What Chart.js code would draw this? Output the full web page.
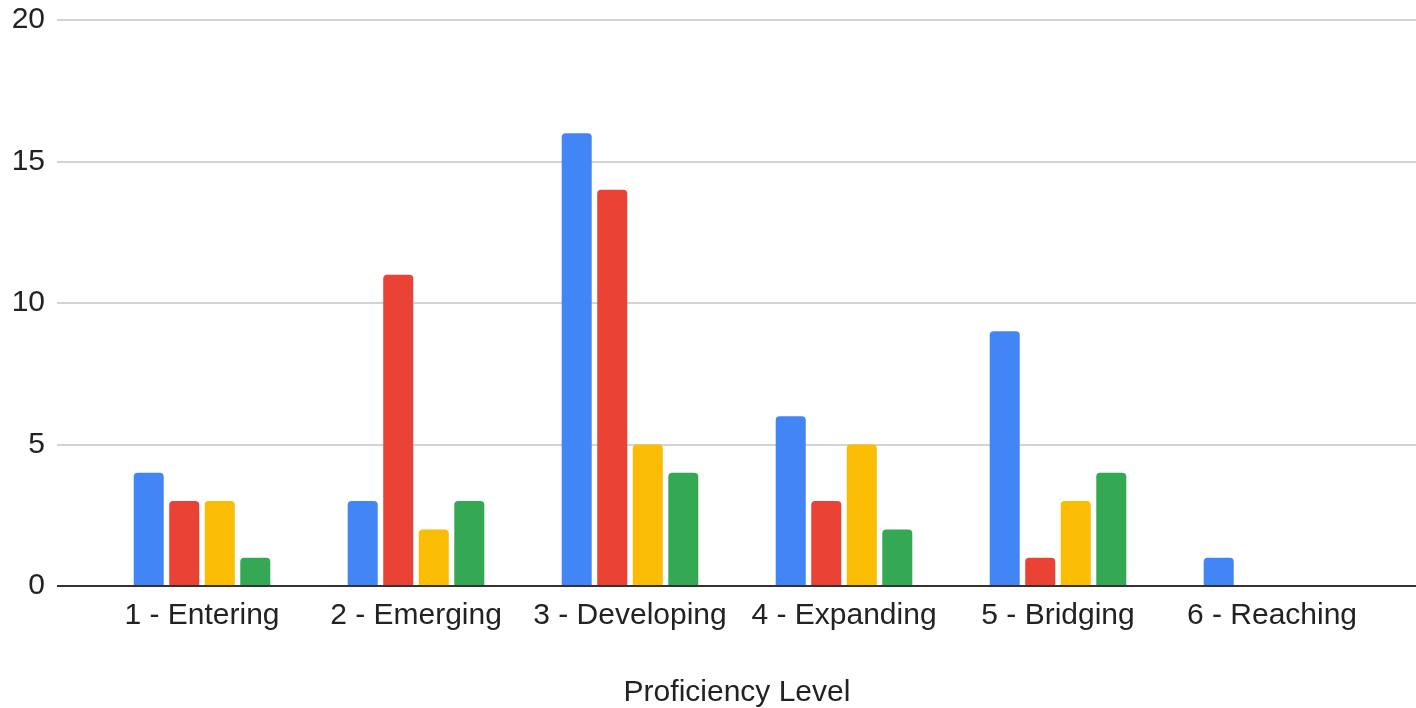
<!DOCTYPE html>
<html>
<head>
<meta charset="utf-8">
<script src="https://cdn.jsdelivr.net/npm/chart.js@4"></script>
<style>
  html, body { margin: 0; padding: 0; background: #fff; }
  #wrap { width: 1416px; height: 708px; position: relative; }
</style>
</head>
<body>
<div id="wrap"><canvas id="levelChart"></canvas></div>
<script>
// data
const levels = ['1 - Entering', '2 - Emerging', '3 - Developing', '4 - Expanding', '5 - Bridging', '6 - Reaching'];
const seriesA = [4, 3, 16, 6, 9, 1];
const seriesB = [3, 11, 14, 3, 1, 0];
const seriesC = [3, 2, 5, 5, 3, 0];
const seriesD = [1, 3, 4, 2, 4, 0];
const yTicks = [0, 5, 10, 15, 20];

const FONT = "'Liberation Sans', Arial, sans-serif";
const GRID_LEFT = 57; // gridlines start just after the y labels

// horizontal gridlines that run wider than the category band (like Google Sheets)
const wideGrid = {
    id: 'wideGrid',
    beforeDatasetsDraw(chart) {
        const { ctx, scales: { y } } = chart;
        ctx.save();
        ctx.lineWidth = 2;
        ctx.strokeStyle = '#d3d3d3';
        yTicks.forEach(v => {
            if (v === 0) return;
            const py = Math.round(y.getPixelForValue(v));
            ctx.beginPath();
            ctx.moveTo(GRID_LEFT, py);
            ctx.lineTo(chart.width, py);
            ctx.stroke();
        });
        ctx.restore();
    },
    afterDatasetsDraw(chart) {
        const { ctx, scales: { y } } = chart;
        const py = Math.round(y.getPixelForValue(0));
        ctx.save();
        ctx.lineWidth = 2;
        ctx.strokeStyle = '#333333';
        ctx.beginPath();
        ctx.moveTo(GRID_LEFT, py);
        ctx.lineTo(chart.width, py);
        ctx.stroke();
        ctx.restore();
    }
};

const barStyle = { borderRadius: 4, borderSkipped: 'start', categoryPercentage: 0.664, barPercentage: 0.845 };

new Chart(document.getElementById('levelChart'), {
    type: 'bar',
    data: {
        labels: levels,
        datasets: [
            { label: 'A', data: seriesA, backgroundColor: '#4285F4', ...barStyle },
            { label: 'B', data: seriesB, backgroundColor: '#EA4335', ...barStyle },
            { label: 'C', data: seriesC, backgroundColor: '#FBBC04', ...barStyle },
            { label: 'D', data: seriesD, backgroundColor: '#34A853', ...barStyle }
        ]
    },
    plugins: [wideGrid],
    options: {
        responsive: true,
        maintainAspectRatio: false,
        animation: false,
        layout: { padding: { top: 20, right: 37, bottom: 0, left: 0 } },
        plugins: {
            legend: { display: false },
            tooltip: { enabled: false }
        },
        scales: {
            x: {
                grid: { display: false, drawTicks: false },
                border: { display: false },
                ticks: { color: '#222', font: { family: FONT, size: 30 }, padding: 12, maxRotation: 0 },
                title: { display: true, text: 'Proficiency Level', color: '#222', font: { family: FONT, size: 30 }, padding: { top: 29, bottom: -3 } }
            },
            y: {
                min: 0,
                max: 20,
                afterBuildTicks(axis) { axis.ticks = yTicks.map(v => ({ value: v })); },
                afterFit(axis) {
                    axis.width = 95;
                    axis.paddingTop = 0;
                    axis.paddingBottom = 0;
                },
                grid: { display: false, drawTicks: false },
                border: { display: false },
                ticks: { color: '#222', font: { family: FONT, size: 30 }, padding: 50 }
            }
        }
    }
});
</script>
</body>
</html>
